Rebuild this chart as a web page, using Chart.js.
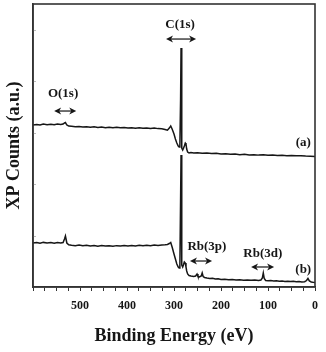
<!DOCTYPE html>
<html>
<head>
<meta charset="utf-8">
<script src="https://cdn.jsdelivr.net/npm/chart.js@4/dist/chart.umd.min.js"></script>
<style>
  html, body { margin: 0; padding: 0; background: #fff; }
  #wrap { width: 326px; height: 352px; }
</style>
</head>
<body>
<div id="wrap"><canvas id="xps"></canvas></div>
<script>
// --- DATA (binding energy in eV, counts in arbitrary units) ---
const energyA = [600,592,585,578,570,562,555,548,541,536,533,531,528,524,518,510,502,494,486,478,470,462,454,446,438,430,422,414,406,398,390,382,374,366,358,350,342,334,326,319,314,310,307,304,300,297,294,291,289,287.5,286,285,284,283,281.5,280,278,276,274.5,273,271,268,264,258,250,240,230,220,210,200,190,180,170,160,150,140,130,120,110,100,90,80,70,60,50,40,30,20,10,0];
const countsA = [3148,3157,3148,3167,3154,3163,3152,3167,3157,3167,3187,3196,3148,3128,3122,3113,3120,3109,3116,3105,3113,3101,3109,3097,3105,3093,3103,3093,3101,3089,3097,3087,3095,3084,3091,3082,3089,3078,3074,3060,3047,3089,3128,3070,2973,2876,2798,2740,2720,2759,3633,4644,3633,2701,2662,2691,2740,2798,2779,2681,2623,2607,2615,2604,2611,2600,2605,2594,2598,2584,2590,2580,2584,2572,2578,2566,2572,2563,2569,2559,2565,2555,2561,2551,2557,2549,2553,2545,2541,2536];

const energyB = [600,592,585,578,570,562,555,548,541,536,533,531,528,524,518,510,502,494,486,478,470,462,454,446,438,430,422,414,406,398,390,382,374,366,358,350,342,334,326,319,314,310,307,304,300,297,294,291,289,287.5,286,285,284,283,281.5,280,278,276,274.5,273,271,268,264,258,254,251,249,246,242,240,238,235,230,224,218,212,206,200,192,184,176,168,160,152,144,136,128,120,115,112,110,108,105,100,94,88,82,76,70,64,58,52,46,40,34,28,22,18,15,12,8,4,0];
const countsB = [855,865,851,867,855,863,849,865,855,865,933,991,855,820,812,804,816,800,810,797,806,793,804,795,802,793,804,797,806,797,808,799,810,800,812,804,816,808,816,820,826,845,865,777,641,544,447,389,369,427,1690,2565,1690,427,389,427,486,466,389,311,253,223,214,204,214,253,204,194,214,272,204,185,175,165,169,155,159,148,152,140,146,136,142,132,138,130,136,128,136,175,272,165,126,120,124,117,120,111,117,107,113,105,111,101,107,97,103,126,165,117,97,91,87];

const xTickLabels = [500, 400, 300, 200, 100, 0];

// peak labels + double arrows, anchored in data units (eV, counts)
const notes = [
  { text: 'C(1s)',  x: 287, y: 5091, from: 317, to: 253, ay: 4819 },
  { text: 'O(1s)',  x: 536, y: 3750, from: 555, to: 508, ay: 3420 },
  { text: 'Rb(3p)', x: 230, y: 777,  from: 266, to: 219, ay: 505 },
  { text: 'Rb(3d)', x: 111, y: 641,  from: 136, to: 87,  ay: 389 },
  { text: '(a)',    x: 25,  y: 2798 },
  { text: '(b)',    x: 25,  y: 330 }
];

const INK = '#161616';
Chart.defaults.font.family = '"Liberation Serif", "DejaVu Serif", serif';
Chart.defaults.font.weight = 'bold';
Chart.defaults.color = INK;

const toPts = (xs, ys) => xs.map((e, i) => ({ x: e, y: ys[i] }));

// frame, faint inner y ticks, annotations
const decor = {
  id: 'decor',
  afterDatasetsDraw(chart) {
    const { ctx, chartArea: a, scales: { x, y } } = chart;
    ctx.save();
    // faint inner ticks on the left
    ctx.strokeStyle = '#bbb';
    ctx.lineWidth = 1;
    for (let v = 1000; v <= 5000; v += 1000) {
      const py = Math.round(y.getPixelForValue(v)) + 0.5;
      ctx.beginPath(); ctx.moveTo(a.left, py); ctx.lineTo(a.left + 3, py); ctx.stroke();
    }
    // box
    ctx.strokeStyle = '#333';
    ctx.lineWidth = 1.6;
    ctx.strokeRect(a.left, a.top, a.right - a.left, a.bottom - a.top);

    ctx.fillStyle = INK;
    ctx.strokeStyle = '#333';
    ctx.font = 'bold 13px "Liberation Serif", serif';
    ctx.textAlign = 'center';
    ctx.textBaseline = 'middle';
    notes.forEach(n => {
      ctx.fillText(n.text, x.getPixelForValue(n.x), y.getPixelForValue(n.y));
      if (n.from === undefined) return;
      const x1 = x.getPixelForValue(n.from), x2 = x.getPixelForValue(n.to);
      const py = y.getPixelForValue(n.ay);
      ctx.lineWidth = 1.4;
      ctx.beginPath(); ctx.moveTo(x1 + 4, py); ctx.lineTo(x2 - 4, py); ctx.stroke();
      [[x1, 1], [x2, -1]].forEach(([px, d]) => {
        ctx.beginPath();
        ctx.moveTo(px, py);
        ctx.lineTo(px + d * 7, py - 3.5);
        ctx.lineTo(px + d * 5, py);
        ctx.lineTo(px + d * 7, py + 3.5);
        ctx.closePath();
        ctx.fill();
      });
    });
    ctx.restore();
  }
};

new Chart(document.getElementById('xps'), {
  type: 'line',
  data: {
    datasets: [
      { label: '(a)', data: toPts(energyA, countsA) },
      { label: '(b)', data: toPts(energyB, countsB) }
    ]
  },
  options: {
    responsive: true,
    maintainAspectRatio: false,
    animation: false,
    elements: {
      line: { borderColor: INK, borderWidth: 1.5, tension: 0 },
      point: { radius: 0 }
    },
    layout: { padding: { top: 4, right: 11, left: 0, bottom: 0 } },
    plugins: { legend: { display: false }, tooltip: { enabled: false } },
    scales: {
      x: {
        type: 'linear',
        reverse: true,
        min: 0,
        max: 600,
        afterFit: s => { s.height = 65; },
        border: { display: true, color: '#333', width: 1.6 },
        grid: { drawOnChartArea: false, drawTicks: true, tickLength: 4, color: '#333', lineWidth: 1 },
        ticks: {
          stepSize: 25,
          autoSkip: false,
          maxRotation: 0,
          padding: 8,
          font: { size: 12, weight: 'bold' },
          callback: v => xTickLabels.includes(v) ? String(v) : ''
        },
        title: {
          display: true,
          text: 'Binding Energy (eV)',
          font: { size: 18, weight: 'bold' },
          padding: { top: 0, bottom: 5 }
        }
      },
      y: {
        min: 0,
        max: 5500,
        afterFit: s => { s.width = 33; },
        border: { display: true, color: '#333', width: 1.6 },
        grid: { display: false },
        ticks: { display: false, stepSize: 1000 },
        title: {
          display: true,
          text: 'XP Counts (a.u.)',
          font: { size: 18, weight: 'bold' },
          padding: { top: 4, bottom: 0 }
        }
      }
    }
  },
  plugins: [decor]
});
</script>
</body>
</html>
